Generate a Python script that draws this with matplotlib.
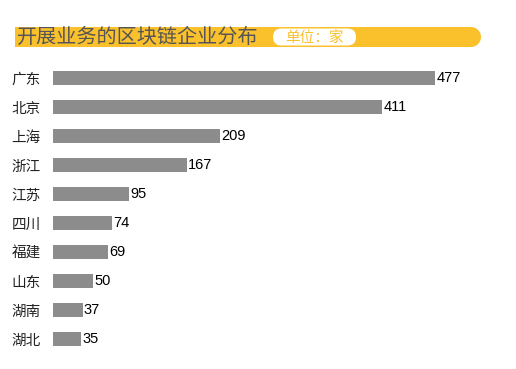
import matplotlib
matplotlib.use("Agg")
import matplotlib.pyplot as plt
from matplotlib.patches import Rectangle, Circle, FancyBboxPatch

plt.rcParams['font.family'] = ['Noto Sans CJK SC', 'DejaVu Sans']

categories = ["广东", "北京", "上海", "浙江", "江苏", "四川", "福建", "山东", "湖南", "湖北"]
values = [477, 411, 209, 167, 95, 74, 69, 50, 37, 35]
title = "开展业务的区块链企业分布"
unit = "单位：家"

W, H = 516, 369
fig = plt.figure(figsize=(W / 100, H / 100), dpi=100)

# overlay in pixel coords for title band
ov = fig.add_axes([0, 0, 1, 1])
ov.set_xlim(0, W)
ov.set_ylim(H, 0)
ov.axis('off')
yellow = '#FBC12D'
ov.add_patch(Rectangle((15, 27), 456, 20, color=yellow, lw=0))
ov.add_patch(Circle((471, 37), 10, color=yellow, lw=0))
ov.add_patch(FancyBboxPatch((273, 28.5), 83, 17, boxstyle="round,pad=0,rounding_size=8.5",
                            fc='white', ec='none'))
ov.text(17, 37.5, title, fontsize=14.5, color='#555555', va='center', ha='left')
ov.text(314.5, 37.5, unit, fontsize=10.5, color=yellow, va='center', ha='center')

# bar axes
left, right = 53 / W, 435 / W
top_px, bot_px = 63.5, 353.5
ax = fig.add_axes([left, 1 - bot_px / H, right - left, (bot_px - top_px) / H])
y = list(range(len(categories)))
ax.barh(y, values, height=0.48, color='#8C8C8C')
ax.set_xlim(0, max(values))
ax.set_ylim(len(categories) - 0.5, -0.5)
for s in ax.spines.values():
    s.set_visible(False)
ax.set_xticks([])
ax.set_yticks(y)
ax.set_yticklabels(categories, fontsize=10.5, color='#222222')
ax.tick_params(axis='y', length=0, pad=9)
for yi, v in zip(y, values):
    ax.text(v + 1.5, yi, str(v), va='center', ha='left', fontsize=10.5,
            family=['Liberation Sans', 'DejaVu Sans'], color='black', clip_on=False)

fig.savefig("out.png", dpi=100)
